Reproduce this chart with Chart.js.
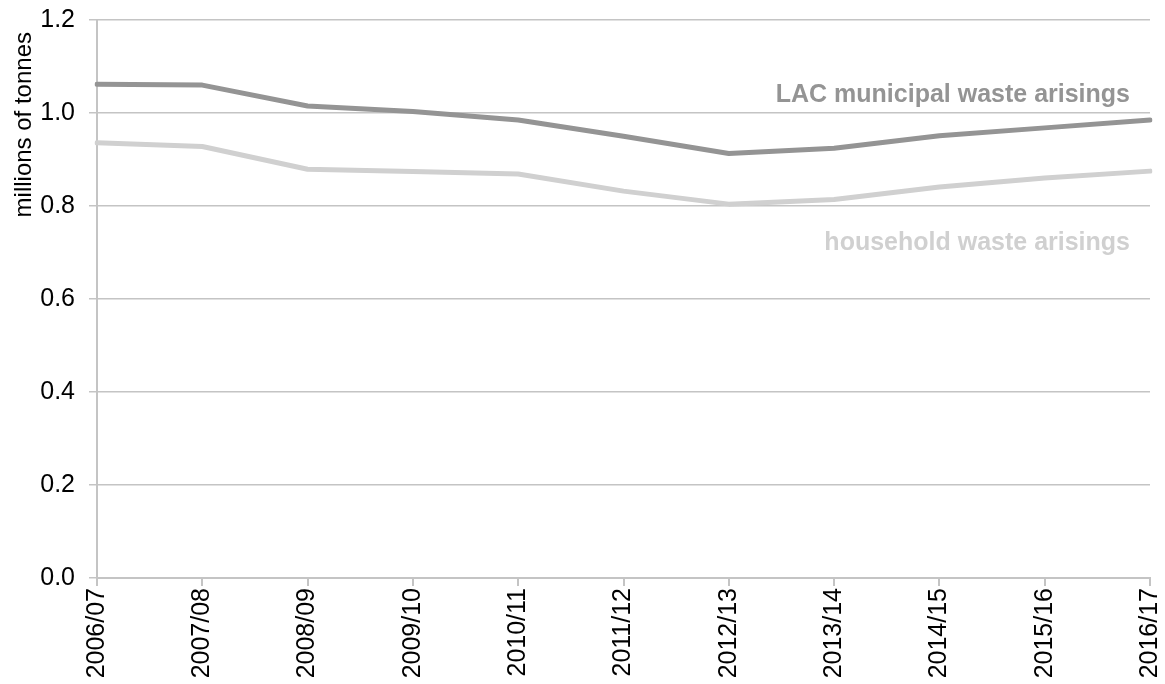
<!DOCTYPE html>
<html>
<head>
<meta charset="utf-8">
<script src="https://cdn.jsdelivr.net/npm/chart.js@4/dist/chart.umd.min.js"></script>
<style>
  html, body { margin: 0; padding: 0; background: #fff; }
  #wrap { width: 1165px; height: 684px; }
</style>
</head>
<body>
<div id="wrap"><canvas id="wasteChart"></canvas></div>
<script>
// categories and values
const years = ['2006/07', '2007/08', '2008/09', '2009/10', '2010/11', '2011/12',
               '2012/13', '2013/14', '2014/15', '2015/16', '2016/17'];
const municipalWaste = [1.062, 1.060, 1.015, 1.003, 0.985, 0.950, 0.913, 0.924, 0.951, 0.968, 0.985];
const householdWaste = [0.936, 0.928, 0.879, 0.874, 0.869, 0.832, 0.804, 0.814, 0.841, 0.860, 0.875];
const yTicks = [0.0, 0.2, 0.4, 0.6, 0.8, 1.0, 1.2];
const seriesNames = ['LAC municipal waste arisings', 'household waste arisings'];
const yTitle = 'millions of tonnes';

const darkGrey = '#949494';
const lightGrey = '#d0d0d0';
const gridGrey = '#c4c4c4';
const fontFamily = '"Liberation Sans", Arial, sans-serif';

// series names written inside the plot, plus the y title near the top
const inlineLabels = {
    id: 'inlineLabels',
    afterDatasetsDraw(chart) {
        const { ctx, chartArea, scales } = chart;
        const spots = [
            { text: seriesNames[0], value: 1.024, color: darkGrey },
            { text: seriesNames[1], value: 0.705, color: lightGrey }
        ];
        ctx.save();
        ctx.font = 'bold 25px ' + fontFamily;
        ctx.textAlign = 'right';
        ctx.textBaseline = 'alphabetic';
        spots.forEach(s => {
            ctx.fillStyle = s.color;
            ctx.fillText(s.text, chartArea.right - 20, scales.y.getPixelForValue(s.value));
        });
        ctx.restore();

        ctx.save();
        ctx.font = '24px ' + fontFamily;
        ctx.fillStyle = '#000';
        ctx.textAlign = 'right';
        ctx.textBaseline = 'middle';
        ctx.translate(24, chartArea.top + 12);
        ctx.rotate(-Math.PI / 2);
        ctx.fillText(yTitle, 0, 0);
        ctx.restore();
    }
};

Chart.defaults.font.family = fontFamily;
Chart.defaults.font.size = 25;
Chart.defaults.color = '#000';

const ctx = document.getElementById('wasteChart').getContext('2d');
new Chart(ctx, {
    type: 'line',
    data: {
        labels: years,
        datasets: [{
            label: seriesNames[0],
            data: municipalWaste,
            borderColor: darkGrey,
            borderWidth: 5,
            pointRadius: 0,
            tension: 0,
            borderCapStyle: 'round',
            borderJoinStyle: 'round'
        }, {
            label: seriesNames[1],
            data: householdWaste,
            borderColor: lightGrey,
            borderWidth: 5,
            pointRadius: 0,
            tension: 0,
            borderCapStyle: 'round',
            borderJoinStyle: 'round'
        }]
    },
    options: {
        responsive: true,
        maintainAspectRatio: false,
        animation: false,
        layout: { padding: 0 },
        plugins: {
            legend: { display: false },
            tooltip: { enabled: false }
        },
        scales: {
            x: {
                offset: false,
                grid: {
                    drawOnChartArea: false,
                    color: gridGrey,
                    tickLength: 8,
                    lineWidth: 2
                },
                border: { color: gridGrey, width: 2 },
                ticks: {
                    minRotation: 90,
                    maxRotation: 90,
                    autoSkip: false,
                    padding: 2
                },
                afterFit: (scale) => {
                    scale.height = 106;
                    scale.paddingLeft = 0;
                    scale.paddingRight = 15;
                }
            },
            y: {
                min: 0,
                max: 1.2,
                afterBuildTicks: (scale) => {
                    scale.ticks = yTicks.map(v => ({ value: v }));
                },
                grid: {
                    color: gridGrey,
                    tickLength: 8,
                    lineWidth: 1.5
                },
                border: { color: gridGrey, width: 2 },
                ticks: {
                    padding: 14,
                    callback: (value) => value.toFixed(1)
                },
                afterFit: (scale) => {
                    scale.width = 97;
                    scale.paddingTop = 20;
                    scale.paddingBottom = 0;
                }
            }
        }
    },
    plugins: [inlineLabels]
});
</script>
</body>
</html>
